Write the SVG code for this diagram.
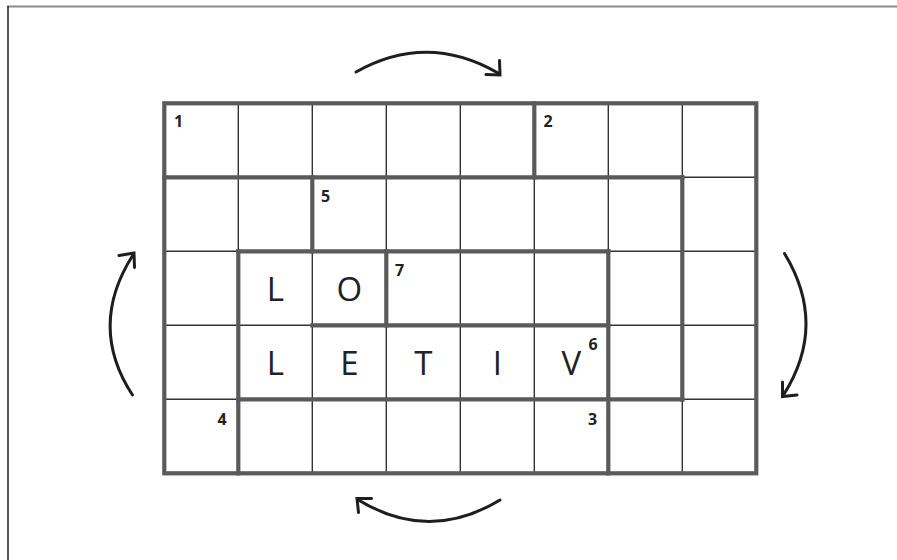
<svg xmlns="http://www.w3.org/2000/svg" width="897" height="560" viewBox="0 0 897 560">
<style>
.thin{stroke:#333;stroke-width:1.4;fill:none}
.thick{stroke:#5a5a5a;stroke-width:4.2;fill:none;stroke-linecap:square}
.let{font-family:"Open Sans","Liberation Sans",sans-serif;font-size:33px;fill:#222;text-anchor:middle}
.num{font-family:"Open Sans","Liberation Sans",sans-serif;font-size:16px;font-weight:700;fill:#222}
.arc{stroke:#1e1e1e;stroke-width:3;fill:none;stroke-linecap:round;stroke-linejoin:miter}
</style>
<rect width="897" height="560" fill="#fff"/>
<g id="frame">
<line x1="7" y1="6.5" x2="897" y2="6.5" stroke="#8a8a8a" stroke-width="2"/>
<line x1="8" y1="6" x2="8" y2="560" stroke="#222" stroke-width="1.5"/>
</g>
<g id="grid-thin" class="thin">
<path d="M238.3 103.3V473.3M312.3 103.3V473.3M386.3 103.3V473.3M460.3 103.3V473.3M534.3 103.3V473.3M608.3 103.3V473.3M682.3 103.3V473.3"/>
<path d="M164.3 177.3H756.3M164.3 251.3H756.3M164.3 325.3H756.3M164.3 399.3H756.3"/>
</g>
<g id="grid-thick" class="thick">
<rect x="164.3" y="103.3" width="592" height="370"/>
<path d="M164.3 177.3H682.3M238.3 251.3H608.3M312.3 325.3H608.3M238.3 399.3H682.3"/>
<path d="M534.3 103.3V177.3M312.3 177.3V251.3M238.3 251.3V473.3M386.3 251.3V325.3M608.3 251.3V473.3M682.3 177.3V399.3"/>
</g>
<g id="letters">
<text class="let" x="275.3" y="301">L</text>
<text class="let" x="349.3" y="301">O</text>
<text class="let" x="275.3" y="375">L</text>
<text class="let" x="349.3" y="375">E</text>
<text class="let" x="423.3" y="375">T</text>
<text class="let" x="497.3" y="375">I</text>
<text class="let" x="571.3" y="375">V</text>
</g>
<g id="numbers">
<text class="num" x="174" y="127">1</text>
<text class="num" x="543.5" y="127">2</text>
<text class="num" x="321" y="202">5</text>
<text class="num" x="395" y="276">7</text>
<text class="num" x="588.5" y="350">6</text>
<text class="num" x="217.5" y="424.5">4</text>
<text class="num" x="588" y="424.5">3</text>
</g>
<g id="arrows">
<g id="arrow-top"><path class="arc" d="M356 72Q427 32 498 73"/><polyline class="arc" points="486,74.5 500,75 499.5,60.5"/></g>
<g id="arrow-right"><path class="arc" d="M784.5 253.5Q828 325 783.5 395"/><polyline class="arc" points="782.5,382 782.5,396.5 797,395"/></g>
<g id="arrow-bottom"><path class="arc" d="M500 500Q429 543 358.5 500"/><polyline class="arc" points="371.5,498.5 357,498.5 358.5,512.5"/></g>
<g id="arrow-left"><path class="arc" d="M132.5 395Q87.5 326 133 255"/><polyline class="arc" points="119,255.5 134,253 134.5,267.5"/></g>
</g>
</svg>
